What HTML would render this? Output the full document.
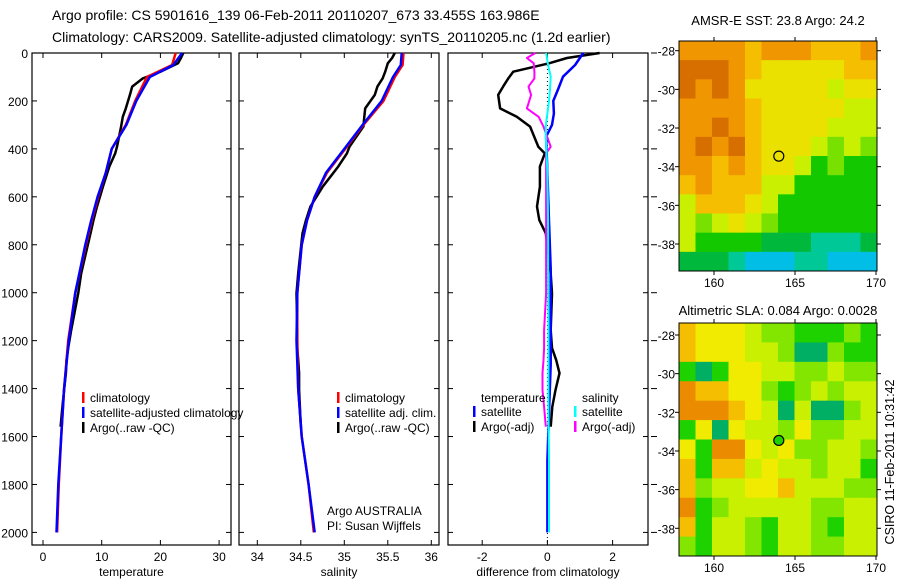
<!DOCTYPE html>
<html><head><meta charset="utf-8"><style>
body{margin:0;background:#fff;}
svg{display:block;font-family:"Liberation Sans",sans-serif;}
text{fill:#000;}
</style></head><body>
<svg id="c" width="900" height="580" xmlns="http://www.w3.org/2000/svg">
<text x="52" y="20" font-size="14">Argo profile: CS 5901616_139 06-Feb-2011 20110207_673 33.455S 163.986E</text>
<text x="52" y="42" font-size="14">Climatology: CARS2009. Satellite-adjusted climatology: synTS_20110205.nc (1.2d earlier)</text>
<text x="778" y="25" font-size="13" text-anchor="middle">AMSR-E SST: 23.8 Argo: 24.2</text>
<text x="778" y="315" font-size="13" text-anchor="middle">Altimetric SLA: 0.084 Argo: 0.0028</text>
<text transform="translate(894,462) rotate(-90)" font-size="12.5" text-anchor="middle">CSIRO 11-Feb-2011 10:31:42</text>
<g id="g"></g>
</svg>
<script>
// ---- data ----
const depthTicks=[0,200,400,600,800,1000,1200,1400,1600,1800,2000];
const tTicks=[0,10,20,30];
const sTicks=[34,34.5,35,35.5,36];
const dTicks=[-2,0,2];
const climDepth=[0,50,100,200,300,400,500,600,700,800,1000,1200,1400,1600,1800,2000];
const climTemp=[22.6,22.0,17.7,15.7,14.1,11.7,10.7,9.4,8.3,7.3,5.5,4.3,3.6,3.1,2.7,2.4];
const satTemp=[23.7,22.2,18.2,15.9,14.2,11.7,10.7,9.3,8.2,7.2,5.5,4.4,3.6,3.1,2.6,2.3];
const climSal=[35.68,35.67,35.58,35.45,35.22,35.01,34.80,34.66,34.57,34.51,34.46,34.46,34.47,34.51,34.59,34.65];
const satSal=[35.66,35.65,35.56,35.43,35.21,35.00,34.79,34.66,34.57,34.51,34.46,34.45,34.47,34.51,34.59,34.66];
const argoDepth=[0,21,43,78,106,140,175,231,266,307,391,419,474,558,641,697,752,919,1003,1156,1231,1281,1336,1406,1476,1559];
const argoTemp=[23.9,23.5,23.0,20.0,17.0,15.2,14.8,14.1,13.6,13.3,12.6,12.3,11.3,10.2,9.2,8.6,8.1,6.5,6.0,4.8,4.3,4.0,3.9,3.6,3.3,3.0];
const argoSal=[35.58,35.55,35.50,35.47,35.44,35.38,35.35,35.24,35.23,35.22,35.06,35.03,34.93,34.75,34.61,34.56,34.52,34.47,34.45,34.46,34.46,34.47,34.48,34.48,34.49,34.50];
const diffDepth=[0,50,99,150,200,252,300,349,500,700,900,1100,1300,1500,1700,2000];
const satTDiff=[1.1,0.85,0.48,0.33,0.18,0.2,0.14,-0.04,0,0.05,0.1,0.1,0.1,0.05,0,0];
const satSDiff=[-0.04,0.02,0.1,0.08,0.05,0.0,-0.05,-0.05,0,0.02,0.02,0.03,0.03,0.03,0.05,0.05];
const argoTDiff=[1.6,0.6,0.05,-1.05,-1.2,-1.36,-1.51,-1.45,-0.94,-0.53,-0.28,-0.08,-0.23,-0.23,-0.32,-0.25,-0.05,0.1,0.14,0.1,0.14,0.27,0.37,0.25,0.15,0.1];
const argoSDiff=[-0.37,-0.63,-0.42,-0.4,-0.4,-0.58,-0.5,-0.63,-0.27,-0.12,0.1,-0.04,-0.04,-0.04,-0.04,-0.04,-0.04,-0.04,-0.04,-0.1,-0.1,-0.12,-0.15,-0.15,-0.1,-0.05];
const lonTicks=[160,165,170];
const latTicks=[-28,-30,-32,-34,-36,-38];
const sstGrid=[
[1,1,1,1,2,1,1,1,2,2,2,1],[0,0,0,1,2,3,3,3,3,3,2,2],[0,1,0,1,3,3,3,3,3,4,3,3],[1,1,1,1,2,3,3,3,3,3,4,4],
[1,1,0,1,2,3,3,3,3,4,4,4],[1,0,1,0,2,3,3,3,4,5,4,5],[1,1,2,1,2,3,3,4,6,5,6,6],[2,1,2,2,2,4,4,6,6,6,6,6],
[4,2,2,2,3,4,6,6,6,6,6,6],[4,5,4,3,4,5,6,6,6,6,6,6],[4,6,6,6,6,7,7,7,8,8,8,7],[7,7,7,8,9,9,9,8,8,9,9,9]];
const slaGrid=[
[2,3,3,3,4,5,5,6,6,6,5,6],[2,3,3,3,4,4,5,7,7,5,6,6],[6,7,6,3,3,4,4,5,5,4,5,5],[1,2,2,3,3,5,6,5,4,5,4,4],
[1,1,1,2,3,4,7,4,7,7,5,4],[6,3,7,3,4,4,5,3,5,5,4,4],[3,6,1,1,3,4,3,5,5,4,4,5],[2,6,2,2,4,3,4,4,5,4,4,6],
[2,5,4,4,3,3,2,4,4,4,5,5],[1,6,5,4,4,4,4,4,5,5,4,4],[2,6,4,4,5,6,4,4,5,6,4,4],[5,6,4,4,5,6,4,4,5,5,4,4]];
const floatLon=164, floatLat=-33.455;
// ---- drawing ----
const g=document.getElementById('g');const NS='http://www.w3.org/2000/svg';
function mk(t,a,name,p){const e=document.createElementNS(NS,t);for(const k in a)e.setAttribute(k,a[k]);


(p||g).appendChild(e);return e;}
const T=53,B=545;const yD=d=>53+d*0.2397;
const panels=[{x0:32,x1:231,f:v=>43+v*5.87,ticks:tTicks,lab:'temperature',n:'temperature'},
{x0:239,x1:439,f:v=>257.3+(v-34)*87,ticks:sTicks,lab:'salinity',n:'salinity'},
{x0:448,x1:648,f:v=>547.4+v*32.6,ticks:dTicks,lab:'difference from climatology',n:'difference'}];
panels.forEach((p,i)=>{
 mk('rect',{x:p.x0,y:T,width:p.x1-p.x0,height:B-T,fill:'none',stroke:'#000','stroke-width':1.2},p.n+'-panel-frame');
 p.ticks.forEach(v=>{const x=p.f(v);
  mk('line',{x1:x,x2:x,y1:B,y2:B-5,stroke:'#000'},p.n+'-x-tick');
  mk('line',{x1:x,x2:x,y1:T,y2:T+5,stroke:'#000'},p.n+'-x-tick-top');
  const t=mk('text',{x:x,y:B+16,'font-size':12,'text-anchor':'middle'},p.n+'-x-tick-label');t.textContent=v;});
 const t=mk('text',{x:(p.x0+p.x1)/2,y:B+31,'font-size':12,'text-anchor':'middle'},p.n+'-x-axis-title');t.textContent=p.lab;
 depthTicks.forEach(d=>{const y=yD(d);
  mk('line',{x1:p.x0,x2:p.x0+5,y1:y,y2:y,stroke:'#000'},p.n+'-y-tick');
  mk('line',{x1:p.x1,x2:p.x1-5,y1:y,y2:y,stroke:'#000'},p.n+'-y-tick-right');
  if(i==0){const l=mk('text',{x:28,y:y+5,'font-size':12,'text-anchor':'end'},'depth-tick-label');l.textContent=d;}
 });
});
depthTicks.forEach(d=>{mk('line',{x1:651,x2:657,y1:yD(d),y2:yD(d),stroke:'#000'},'outer-depth-tick');});
mk('line',{x1:panels[2].f(0),x2:panels[2].f(0),y1:T,y2:B,stroke:'#000','stroke-dasharray':'1,3'},'zero-line');
function line(xs,ds,f,col,w,name){const pts=xs.map((v,i)=>f(v).toFixed(1)+','+yD(ds[i]).toFixed(1)).join(' ');
 mk('polyline',{points:pts,fill:'none',stroke:col,'stroke-width':w,'stroke-linejoin':'round'},name);}
const P=panels;
line(argoTemp,argoDepth,P[0].f,'#000',2.5,'argo-temperature-line');
line(climTemp,climDepth,P[0].f,'#f00',2.5,'climatology-temperature-line');
line(satTemp,climDepth,P[0].f,'#00f',2.5,'satellite-temperature-line');
line(argoSal,argoDepth,P[1].f,'#000',2.5,'argo-salinity-line');
line(climSal,climDepth,P[1].f,'#f00',2.5,'climatology-salinity-line');
line(satSal,climDepth,P[1].f,'#00f',2.5,'satellite-salinity-line');
line(argoTDiff,argoDepth,P[2].f,'#000',2.5,'argo-temperature-diff-line');
line(satTDiff,diffDepth,P[2].f,'#00f',2.5,'satellite-temperature-diff-line');
line(argoSDiff,argoDepth,P[2].f,'#f0f',2,'argo-salinity-diff-line');
line(satSDiff,diffDepth,P[2].f,'#0ff',2,'satellite-salinity-diff-line');
function leg(x,y,col,txt,name){if(col)mk('rect',{x:x-8,y:y-10,width:2.5,height:11,fill:col},name+'-marker');
 const t=mk('text',{x:x,y:y,'font-size':12},name+'-label');t.textContent=txt;}
leg(90,402,'#f00','climatology','legend-climatology');
leg(90,417,'#00f','satellite-adjusted climatology','legend-satellite-adjusted');
leg(90,432,'#000','Argo(..raw -QC)','legend-argo-raw');
leg(345,402,'#f00','climatology','legend2-climatology');
leg(345,417,'#00f','satellite adj. clim.','legend2-satellite');
leg(345,432,'#000','Argo(..raw -QC)','legend2-argo');
leg(481,402,null,'temperature','legend3-temperature');
leg(481,416,'#00f','satellite','legend3-temp-satellite');
leg(481,431,'#000','Argo(-adj)','legend3-temp-argo');
leg(582,402,null,'salinity','legend3-salinity');
leg(582,416,'#0ff','satellite','legend3-sal-satellite');
leg(582,431,'#f0f','Argo(-adj)','legend3-sal-argo');
let a=mk('text',{x:327,y:515,'font-size':12},'argo-australia-label');a.textContent='Argo AUSTRALIA';
a=mk('text',{x:327,y:530,'font-size':12},'pi-label');a.textContent='PI: Susan Wijffels';
const sstPal=['#d66e00','#f09600','#f5be00','#ebe100','#c8f000','#78e100','#14c800','#00b93c','#00c896','#00bee6'];
const slaPal=['#d66e00','#eb8c00','#f5be00','#f0eb00','#c8f000','#82e600','#1ed200','#00af64'];
function map(y0,y1,lat28,grid,pal,name,fillCircle){
 const x0=679,x1=877,lonf=v=>714+(v-160)*16.2,latf=v=>lat28+(-28-v)*19.33;
 const R=grid.length,C=grid[0].length,cw=(x1-x0)/C,ch=(y1-y0)/R;
 grid.forEach((row,r)=>row.forEach((v,c)=>mk('rect',{x:x0+c*cw,y:y0+r*ch,width:cw+0.5,height:ch+0.5,fill:pal[v]},name+'-cell')));
 mk('rect',{x:x0,y:y0,width:x1-x0,height:y1-y0,fill:'none',stroke:'#000'},name+'-frame');
 lonTicks.forEach(v=>{const x=lonf(v);mk('line',{x1:x,x2:x,y1:y1,y2:y1+4,stroke:'#000'},name+'-lon-tick');
  mk('line',{x1:x,x2:x,y1:y0,y2:y0-4,stroke:'#000'},name+'-lon-tick-top');
  const t=mk('text',{x:x,y:y1+16,'font-size':12,'text-anchor':'middle'},name+'-lon-label');t.textContent=v;});
 latTicks.forEach(v=>{const y=latf(v);mk('line',{x1:x0,x2:x0-4,y1:y,y2:y,stroke:'#000'},name+'-lat-tick');
  mk('line',{x1:x1,x2:x1+4,y1:y,y2:y,stroke:'#000'},name+'-lat-tick-right');
  const t=mk('text',{x:x0-4,y:y+5,'font-size':12,'text-anchor':'end'},name+'-lat-label');t.textContent=v;});
 mk('circle',{cx:lonf(floatLon),cy:latf(floatLat),r:5,fill:fillCircle||'none',stroke:'#000','stroke-width':1.2},name+'-float-marker');
}
map(41,271,50.7,sstGrid,sstPal,'sst-map');
map(323,556,335,slaGrid,slaPal,'sla-map','#1ed200');
</script>
</body></html>
